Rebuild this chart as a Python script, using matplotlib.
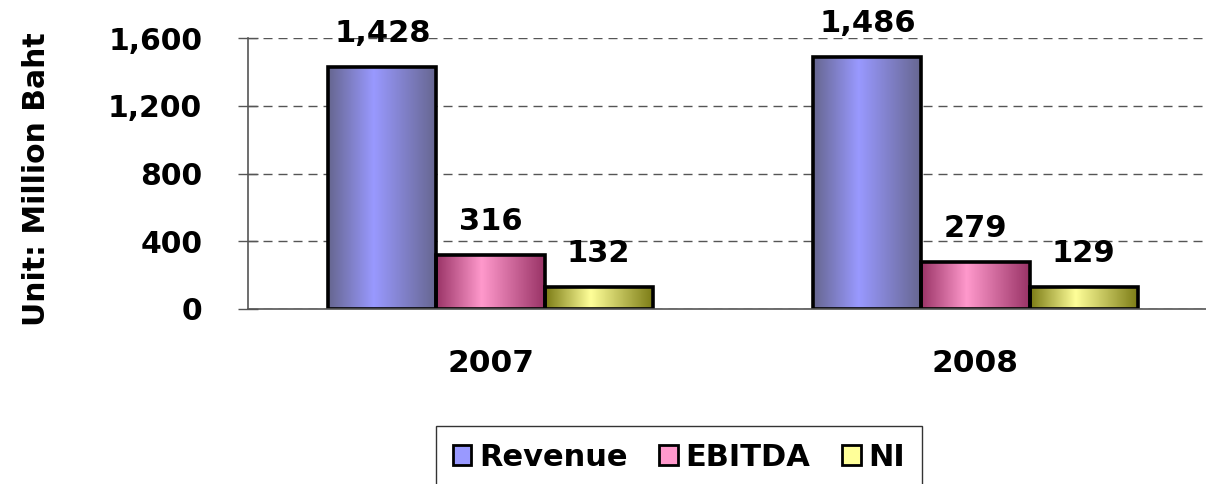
import numpy as np
import matplotlib.pyplot as plt
from matplotlib.colors import LinearSegmentedColormap
from matplotlib.patches import Patch

years = ["2007", "2008"]
series = ["Revenue", "EBITDA", "NI"]
revenue = [1428, 1486]
ebitda = [316, 279]
ni = [132, 129]
values = [revenue, ebitda, ni]
yticks = [0, 400, 800, 1200, 1600]

# (dark edge, light centre) for each series
shades = [("#66668f", "#9999ff"), ("#993366", "#ff99cc"), ("#7a7a14", "#ffff99")]

fig = plt.figure(figsize=(12.06, 4.84), dpi=100)
ax = fig.add_axes([248 / 1206, 1 - 309 / 484, 970 / 1206, 271 / 484])

x = np.arange(len(years))
w = 0.223
grad = np.linspace(0, 1, 256).reshape(1, -1)

for i, (name, vals) in enumerate(zip(series, values)):
    dark, light = shades[i]
    cmap = LinearSegmentedColormap.from_list(name, [(0, dark), (0.42, light), (1, dark)])
    pos = x + (i - 1) * w
    bars = ax.bar(pos, vals, w, fill=False, edgecolor="black", linewidth=2.6, zorder=4)
    for b in bars:
        x0 = b.get_x()
        im = ax.imshow(grad, cmap=cmap, extent=[x0, x0 + b.get_width(), 0, b.get_height()],
                       aspect="auto", zorder=3, interpolation="bilinear")
        im.set_clip_path(b)
        ax.annotate(f"{b.get_height():,.0f}", (x0 + b.get_width() / 2, b.get_height()),
                    xytext=(0, 18), textcoords="offset points", ha="center", va="baseline",
                    fontsize=22, fontweight="bold")

ax.set_xlim(-0.5, 1.5)
ax.set_ylim(0, 1600)
ax.set_yticks(yticks)
ax.set_yticklabels([f"{t:,}" for t in yticks])
ax.set_xticks(x)
ax.set_xticklabels(years)
ax.tick_params(axis="y", direction="inout", length=14, width=1, color="#555555",
               pad=26, labelsize=21.5)
ax.tick_params(axis="x", length=0, pad=29, labelsize=22.5)
for lab in ax.get_xticklabels() + ax.get_yticklabels():
    lab.set_fontweight("bold")

ax.yaxis.grid(True, linestyle=(0, (6.5, 4.3)), color="#555555", linewidth=1)
ax.set_axisbelow(True)
for s in ["top", "right"]:
    ax.spines[s].set_visible(False)
for s in ["left", "bottom"]:
    ax.spines[s].set_color("#555555")
    ax.spines[s].set_linewidth(1.2)
ax.spines["bottom"].set_zorder(5)

ax.set_ylabel("Unit: Million Baht", fontsize=21.5, fontweight="bold")
ax.yaxis.set_label_coords(-0.203, 0.48)

handles = [Patch(facecolor=shades[i][1], edgecolor="black", linewidth=2) for i in range(3)]
leg = fig.legend(handles, series, loc="upper left", bbox_to_anchor=(436 / 1206, 1 - 426 / 484),
                 ncol=3, frameon=True, fancybox=False, edgecolor="black", borderaxespad=0,
                 prop={"size": 22, "weight": "bold"}, handlelength=0.6, handleheight=0.6,
                 handletextpad=0.25, columnspacing=1.05, borderpad=0.55)
leg.get_frame().set_linewidth(1)

fig.savefig("out.png", dpi=100)
